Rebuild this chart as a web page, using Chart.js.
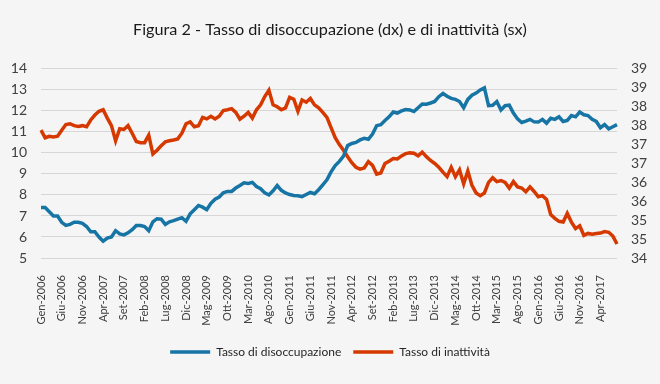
<!DOCTYPE html>
<html>
<head>
<meta charset="utf-8">
<script src="https://cdn.jsdelivr.net/npm/chart.js@4"></script>
<style>
  html, body { margin: 0; padding: 0; background: #f5f5f5; }
  #wrap { width: 660px; height: 384px; }
</style>
</head>
<body>
<div id="wrap"><canvas id="chart" width="660" height="384"></canvas></div>
<script>
const FONT = "Lato, 'Liberation Sans', sans-serif";

const monthNames = ['Gen', 'Feb', 'Mar', 'Apr', 'Mag', 'Giu', 'Lug', 'Ago', 'Set', 'Ott', 'Nov', 'Dic'];
const years = [2006, 2007, 2008, 2009, 2010, 2011, 2012, 2013, 2014, 2015, 2016, 2017];
const monthCount = 140; // Gen-2006 .. Ago-2017

// Tasso di disoccupazione (asse sinistro)
const disoccupazione = [
  7.4, 7.4, 7.2, 7.0, 7.0, 6.7, 6.55, 6.6, 6.7, 6.7, 6.65, 6.5,
  6.25, 6.25, 6.0, 5.8, 5.95, 6.0, 6.3, 6.15, 6.1, 6.2, 6.35, 6.55,
  6.55, 6.5, 6.3, 6.72, 6.87, 6.85, 6.6, 6.72, 6.78, 6.85, 6.92, 6.75,
  7.1, 7.3, 7.5, 7.42, 7.3, 7.6, 7.8, 7.9, 8.1, 8.17, 8.17, 8.33,
  8.45, 8.58, 8.55, 8.6, 8.4, 8.3, 8.1, 8.0, 8.2, 8.45, 8.22, 8.1,
  8.02, 7.98, 7.96, 7.92, 8.02, 8.12, 8.06, 8.25, 8.48, 8.72, 9.1, 9.4,
  9.6, 9.85, 10.35, 10.45, 10.5, 10.62, 10.7, 10.65, 10.9, 11.3, 11.35, 11.55,
  11.72, 11.95, 11.9, 12.0, 12.07, 12.05, 11.97, 12.15, 12.33, 12.32, 12.38, 12.45,
  12.68, 12.83, 12.7, 12.6, 12.55, 12.45, 12.15, 12.55, 12.75, 12.85, 13.0, 13.1,
  12.25, 12.27, 12.45, 12.05, 12.25, 12.28, 11.9, 11.62, 11.45, 11.52, 11.6, 11.48,
  11.47, 11.6, 11.42, 11.65, 11.6, 11.72, 11.5, 11.55, 11.78, 11.72, 11.95, 11.82,
  11.78, 11.6, 11.5, 11.2, 11.35, 11.15, 11.25, 11.35
];

// Tasso di inattività (asse destro)
const inattivita = [
  37.38, 37.18, 37.22, 37.2, 37.22, 37.38, 37.53, 37.55, 37.5, 37.48, 37.5, 37.47,
  37.65, 37.78, 37.88, 37.92, 37.7, 37.5, 37.1, 37.42, 37.4, 37.5, 37.3, 37.08,
  37.05, 37.05, 37.25, 36.75, 36.85, 36.97, 37.07, 37.1, 37.12, 37.15, 37.3, 37.55,
  37.6, 37.47, 37.5, 37.72, 37.68, 37.75, 37.68, 37.75, 37.9, 37.92, 37.95, 37.85,
  37.67, 37.75, 37.85, 37.7, 37.92, 38.05, 38.27, 38.44, 38.05, 38.0, 37.92, 37.97,
  38.25, 38.2, 37.88, 38.18, 38.12, 38.22, 38.05, 37.97, 37.85, 37.72, 37.45, 37.18,
  37.0, 36.85, 36.68, 36.52, 36.4, 36.35, 36.38, 36.55, 36.45, 36.22, 36.25, 36.5,
  36.56, 36.63, 36.62, 36.7, 36.76, 36.78, 36.77, 36.7, 36.8, 36.68, 36.58, 36.5,
  36.4, 36.27, 36.15, 36.4, 36.15, 36.33, 35.96, 36.3, 35.92, 35.72, 35.65, 35.72,
  36.0, 36.12, 36.02, 36.05, 36.0, 35.85, 36.02, 35.88, 35.85, 35.75, 35.88, 35.76,
  35.62, 35.65, 35.55, 35.15, 35.05, 34.97, 34.95, 35.18, 34.95, 34.78, 34.85, 34.6,
  34.65, 34.63, 34.65, 34.66, 34.7, 34.68, 34.58, 34.37
];

const labels = [];
for (const y of years) {
  for (const m of monthNames) {
    if (labels.length < monthCount) labels.push(m + '-' + y);
  }
}

const bgPlugin = {
  id: 'bg',
  beforeDraw: chart => {
    const ctx = chart.ctx;
    ctx.save();
    ctx.fillStyle = '#f5f5f5';
    ctx.fillRect(0, 0, chart.width, chart.height);
    ctx.restore();
  }
};

new Chart(document.getElementById('chart').getContext('2d'), {
  type: 'line',
  data: {
    labels: labels,
    datasets: [
      {
        label: 'Tasso di disoccupazione',
        data: disoccupazione,
        yAxisID: 'y',
        borderColor: '#1775a5',
        backgroundColor: '#1775a5',
        borderWidth: 3.5,
        pointRadius: 0,
        tension: 0
      },
      {
        label: 'Tasso di inattività',
        data: inattivita,
        yAxisID: 'y1',
        borderColor: '#d63900',
        backgroundColor: '#d63900',
        borderWidth: 3.5,
        pointRadius: 0,
        tension: 0
      }
    ]
  },
  options: {
    responsive: false,
    animation: false,
    layout: { padding: { left: 0, right: 0, top: 0, bottom: 16 } },
    scales: {
      x: {
        offset: false,
        grid: { display: false },
        border: { display: false },
        ticks: {
          autoSkip: false,
          maxRotation: 90,
          minRotation: 90,
          padding: 9,
          color: '#404040',
          font: { family: FONT, size: 11 },
          callback: (v, i) => (i % 5 === 0 ? labels[i] : null)
        },
        afterFit: s => { s.height = 76; }
      },
      y: {
        position: 'left',
        min: 5,
        max: 14,
        grid: { color: '#d6d6d6', lineWidth: 1, drawTicks: false },
        border: { display: false },
        ticks: {
          stepSize: 1,
          padding: 14,
          color: '#404040',
          font: { family: FONT, size: 14 }
        },
        afterFit: s => { s.width = 41; }
      },
      y1: {
        position: 'right',
        min: 34,
        max: 39,
        grid: { display: false, drawTicks: false },
        border: { display: false },
        ticks: {
          stepSize: 0.5,
          autoSkip: false,
          padding: 14,
          color: '#404040',
          font: { family: FONT, size: 14 },
          callback: v => Math.round(v)
        },
        afterFit: s => { s.width = 43; }
      }
    },
    plugins: {
      title: {
        display: true,
        text: 'Figura 2 - Tasso di disoccupazione (dx) e di inattività (sx)',
        color: '#1a1a1a',
        font: { family: FONT, size: 16.2, weight: 'normal' },
        padding: { top: 20, bottom: 29.5 }
      },
      legend: {
        position: 'bottom',
        labels: {
          usePointStyle: true,
          pointStyle: 'line',
          pointStyleWidth: 40,
          padding: 12,
          color: '#262626',
          font: { family: FONT, size: 12 }
        }
      },
      tooltip: { enabled: false }
    }
  },
  plugins: [bgPlugin]
});
</script>
</body>
</html>
